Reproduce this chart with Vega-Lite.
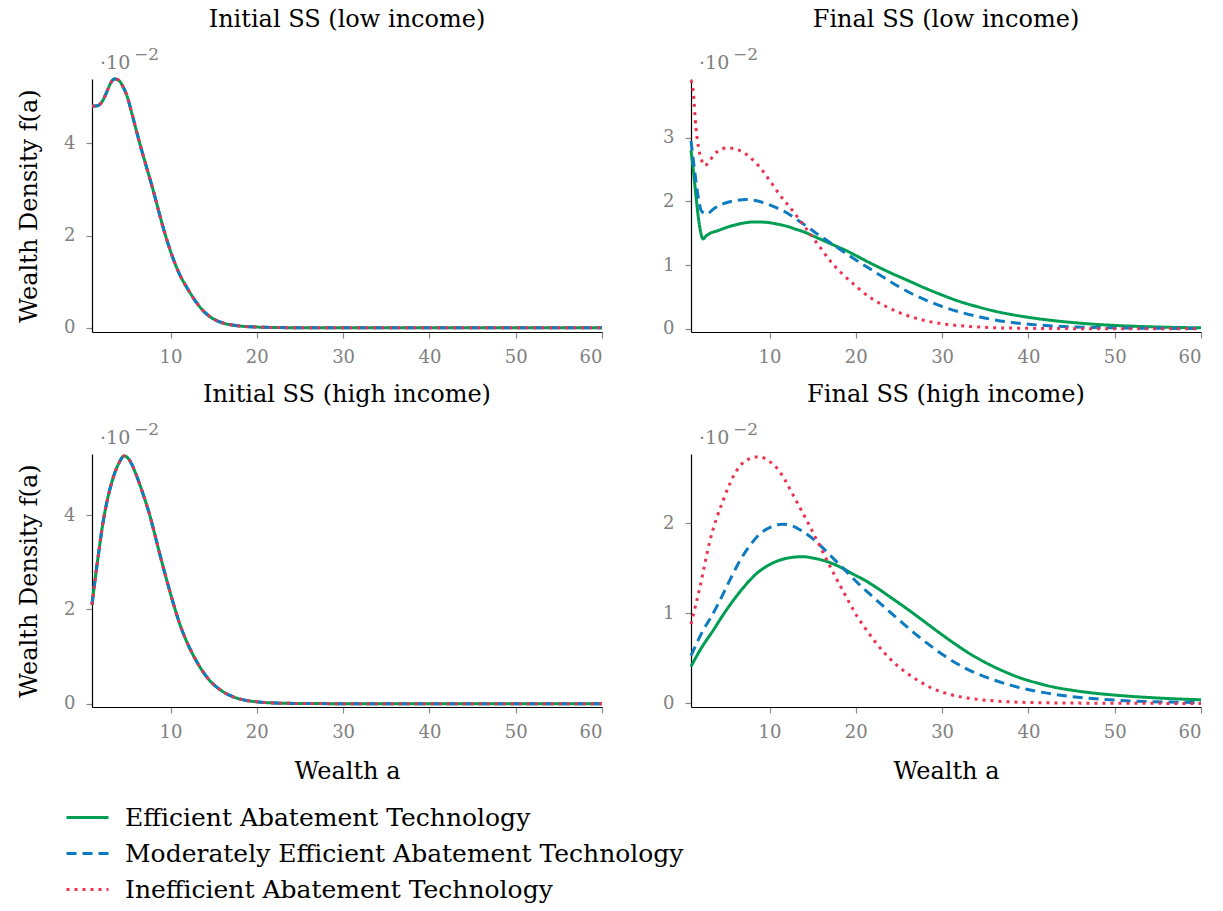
{
  "$schema": "https://vega.github.io/schema/vega-lite/v6.json",
  "padding": {"left": 17, "top": 8, "right": 5, "bottom": 5},
  "background": "white",
  "config": {
    "font": "DejaVu Serif",
    "view": {"stroke": null},
    "axis": {"grid": false, "domainColor": "#000", "domainWidth": 1.2, "tickColor": "#888", "tickSize": 6, "tickWidth": 1.2, "labelColor": "#808080", "labelFont": "DejaVu Serif", "labelFontSize": 18, "format": "d", "titleFont": "DejaVu Serif", "titleFontSize": 24, "titleFontWeight": "normal", "titleColor": "#000"},
    "axisX": {"labelPadding": 10, "titlePadding": 18},
    "axisY": {"labelPadding": 11, "titlePadding": 22},
    "title": {"font": "DejaVu Serif", "fontSize": 24, "fontWeight": "normal", "color": "#000", "offset": 14},
    "legend": {"orient": "none", "legendX": -27, "legendY": 716, "direction": "vertical", "title": null, "labelFont": "DejaVu Serif", "labelFontSize": 25, "labelColor": "#000", "symbolType": "stroke", "symbolSize": 1764, "symbolStrokeWidth": 3, "rowPadding": 0, "labelOffset": 15, "labelLimit": 800}
  },
  "datasets": {
    "tl": [
      {"tech": "Efficient Abatement Technology", "a": 0.9, "f": 4.80}, {"tech": "Efficient Abatement Technology", "a": 1.5, "f": 4.81}, {"tech": "Efficient Abatement Technology", "a": 2.0, "f": 4.88}, {"tech": "Efficient Abatement Technology", "a": 2.5, "f": 5.06}, {"tech": "Efficient Abatement Technology", "a": 3.0, "f": 5.28}, {"tech": "Efficient Abatement Technology", "a": 3.5, "f": 5.39}, {"tech": "Efficient Abatement Technology", "a": 4.0, "f": 5.36}, {"tech": "Efficient Abatement Technology", "a": 4.5, "f": 5.22}, {"tech": "Efficient Abatement Technology", "a": 5.0, "f": 5.00}, {"tech": "Efficient Abatement Technology", "a": 5.5, "f": 4.66}, {"tech": "Efficient Abatement Technology", "a": 6.0, "f": 4.30}, {"tech": "Efficient Abatement Technology", "a": 6.5, "f": 3.95}, {"tech": "Efficient Abatement Technology", "a": 7.0, "f": 3.62}, {"tech": "Efficient Abatement Technology", "a": 7.5, "f": 3.30}, {"tech": "Efficient Abatement Technology", "a": 8.0, "f": 2.97}, {"tech": "Efficient Abatement Technology", "a": 8.5, "f": 2.62}, {"tech": "Efficient Abatement Technology", "a": 9.0, "f": 2.27}, {"tech": "Efficient Abatement Technology", "a": 9.5, "f": 1.95}, {"tech": "Efficient Abatement Technology", "a": 10.0, "f": 1.66}, {"tech": "Efficient Abatement Technology", "a": 11.0, "f": 1.18}, {"tech": "Efficient Abatement Technology", "a": 12.0, "f": 0.84}, {"tech": "Efficient Abatement Technology", "a": 13.0, "f": 0.55}, {"tech": "Efficient Abatement Technology", "a": 14.0, "f": 0.33}, {"tech": "Efficient Abatement Technology", "a": 15.0, "f": 0.19}, {"tech": "Efficient Abatement Technology", "a": 16.0, "f": 0.11}, {"tech": "Efficient Abatement Technology", "a": 17.0, "f": 0.065}, {"tech": "Efficient Abatement Technology", "a": 18.0, "f": 0.04}, {"tech": "Efficient Abatement Technology", "a": 20.0, "f": 0.017}, {"tech": "Efficient Abatement Technology", "a": 22.0, "f": 0.008}, {"tech": "Efficient Abatement Technology", "a": 25.0, "f": 0.003}, {"tech": "Efficient Abatement Technology", "a": 30.0, "f": 0.001}, {"tech": "Efficient Abatement Technology", "a": 35.0, "f": 0}, {"tech": "Efficient Abatement Technology", "a": 45.0, "f": 0}, {"tech": "Efficient Abatement Technology", "a": 60.0, "f": 0},
      {"tech": "Moderately Efficient Abatement Technology", "a": 0.9, "f": 4.80}, {"tech": "Moderately Efficient Abatement Technology", "a": 1.5, "f": 4.81}, {"tech": "Moderately Efficient Abatement Technology", "a": 2.0, "f": 4.88}, {"tech": "Moderately Efficient Abatement Technology", "a": 2.5, "f": 5.06}, {"tech": "Moderately Efficient Abatement Technology", "a": 3.0, "f": 5.28}, {"tech": "Moderately Efficient Abatement Technology", "a": 3.5, "f": 5.39}, {"tech": "Moderately Efficient Abatement Technology", "a": 4.0, "f": 5.36}, {"tech": "Moderately Efficient Abatement Technology", "a": 4.5, "f": 5.22}, {"tech": "Moderately Efficient Abatement Technology", "a": 5.0, "f": 5.00}, {"tech": "Moderately Efficient Abatement Technology", "a": 5.5, "f": 4.66}, {"tech": "Moderately Efficient Abatement Technology", "a": 6.0, "f": 4.30}, {"tech": "Moderately Efficient Abatement Technology", "a": 6.5, "f": 3.95}, {"tech": "Moderately Efficient Abatement Technology", "a": 7.0, "f": 3.62}, {"tech": "Moderately Efficient Abatement Technology", "a": 7.5, "f": 3.30}, {"tech": "Moderately Efficient Abatement Technology", "a": 8.0, "f": 2.97}, {"tech": "Moderately Efficient Abatement Technology", "a": 8.5, "f": 2.62}, {"tech": "Moderately Efficient Abatement Technology", "a": 9.0, "f": 2.27}, {"tech": "Moderately Efficient Abatement Technology", "a": 9.5, "f": 1.95}, {"tech": "Moderately Efficient Abatement Technology", "a": 10.0, "f": 1.66}, {"tech": "Moderately Efficient Abatement Technology", "a": 11.0, "f": 1.18}, {"tech": "Moderately Efficient Abatement Technology", "a": 12.0, "f": 0.84}, {"tech": "Moderately Efficient Abatement Technology", "a": 13.0, "f": 0.55}, {"tech": "Moderately Efficient Abatement Technology", "a": 14.0, "f": 0.33}, {"tech": "Moderately Efficient Abatement Technology", "a": 15.0, "f": 0.19}, {"tech": "Moderately Efficient Abatement Technology", "a": 16.0, "f": 0.11}, {"tech": "Moderately Efficient Abatement Technology", "a": 17.0, "f": 0.065}, {"tech": "Moderately Efficient Abatement Technology", "a": 18.0, "f": 0.04}, {"tech": "Moderately Efficient Abatement Technology", "a": 20.0, "f": 0.017}, {"tech": "Moderately Efficient Abatement Technology", "a": 22.0, "f": 0.008}, {"tech": "Moderately Efficient Abatement Technology", "a": 25.0, "f": 0.003}, {"tech": "Moderately Efficient Abatement Technology", "a": 30.0, "f": 0.001}, {"tech": "Moderately Efficient Abatement Technology", "a": 35.0, "f": 0}, {"tech": "Moderately Efficient Abatement Technology", "a": 45.0, "f": 0}, {"tech": "Moderately Efficient Abatement Technology", "a": 60.0, "f": 0},
      {"tech": "Inefficient Abatement Technology", "a": 0.9, "f": 4.80}, {"tech": "Inefficient Abatement Technology", "a": 1.5, "f": 4.81}, {"tech": "Inefficient Abatement Technology", "a": 2.0, "f": 4.88}, {"tech": "Inefficient Abatement Technology", "a": 2.5, "f": 5.06}, {"tech": "Inefficient Abatement Technology", "a": 3.0, "f": 5.28}, {"tech": "Inefficient Abatement Technology", "a": 3.5, "f": 5.39}, {"tech": "Inefficient Abatement Technology", "a": 4.0, "f": 5.36}, {"tech": "Inefficient Abatement Technology", "a": 4.5, "f": 5.22}, {"tech": "Inefficient Abatement Technology", "a": 5.0, "f": 5.00}, {"tech": "Inefficient Abatement Technology", "a": 5.5, "f": 4.66}, {"tech": "Inefficient Abatement Technology", "a": 6.0, "f": 4.30}, {"tech": "Inefficient Abatement Technology", "a": 6.5, "f": 3.95}, {"tech": "Inefficient Abatement Technology", "a": 7.0, "f": 3.62}, {"tech": "Inefficient Abatement Technology", "a": 7.5, "f": 3.30}, {"tech": "Inefficient Abatement Technology", "a": 8.0, "f": 2.97}, {"tech": "Inefficient Abatement Technology", "a": 8.5, "f": 2.62}, {"tech": "Inefficient Abatement Technology", "a": 9.0, "f": 2.27}, {"tech": "Inefficient Abatement Technology", "a": 9.5, "f": 1.95}, {"tech": "Inefficient Abatement Technology", "a": 10.0, "f": 1.66}, {"tech": "Inefficient Abatement Technology", "a": 11.0, "f": 1.18}, {"tech": "Inefficient Abatement Technology", "a": 12.0, "f": 0.84}, {"tech": "Inefficient Abatement Technology", "a": 13.0, "f": 0.55}, {"tech": "Inefficient Abatement Technology", "a": 14.0, "f": 0.33}, {"tech": "Inefficient Abatement Technology", "a": 15.0, "f": 0.19}, {"tech": "Inefficient Abatement Technology", "a": 16.0, "f": 0.11}, {"tech": "Inefficient Abatement Technology", "a": 17.0, "f": 0.065}, {"tech": "Inefficient Abatement Technology", "a": 18.0, "f": 0.04}, {"tech": "Inefficient Abatement Technology", "a": 20.0, "f": 0.017}, {"tech": "Inefficient Abatement Technology", "a": 22.0, "f": 0.008}, {"tech": "Inefficient Abatement Technology", "a": 25.0, "f": 0.003}, {"tech": "Inefficient Abatement Technology", "a": 30.0, "f": 0.001}, {"tech": "Inefficient Abatement Technology", "a": 35.0, "f": 0}, {"tech": "Inefficient Abatement Technology", "a": 45.0, "f": 0}, {"tech": "Inefficient Abatement Technology", "a": 60.0, "f": 0}
    ],
    "tr": [
      {"tech": "Efficient Abatement Technology", "a": 0.9, "f": 2.80}, {"tech": "Efficient Abatement Technology", "a": 1.2, "f": 2.45}, {"tech": "Efficient Abatement Technology", "a": 1.5, "f": 2.05}, {"tech": "Efficient Abatement Technology", "a": 1.8, "f": 1.70}, {"tech": "Efficient Abatement Technology", "a": 2.1, "f": 1.47}, {"tech": "Efficient Abatement Technology", "a": 2.3, "f": 1.41}, {"tech": "Efficient Abatement Technology", "a": 2.6, "f": 1.45}, {"tech": "Efficient Abatement Technology", "a": 3.0, "f": 1.49}, {"tech": "Efficient Abatement Technology", "a": 4.0, "f": 1.54}, {"tech": "Efficient Abatement Technology", "a": 5.0, "f": 1.59}, {"tech": "Efficient Abatement Technology", "a": 6.0, "f": 1.63}, {"tech": "Efficient Abatement Technology", "a": 7.0, "f": 1.66}, {"tech": "Efficient Abatement Technology", "a": 8.0, "f": 1.675}, {"tech": "Efficient Abatement Technology", "a": 9.0, "f": 1.675}, {"tech": "Efficient Abatement Technology", "a": 10.0, "f": 1.665}, {"tech": "Efficient Abatement Technology", "a": 11.0, "f": 1.64}, {"tech": "Efficient Abatement Technology", "a": 12.0, "f": 1.61}, {"tech": "Efficient Abatement Technology", "a": 13.0, "f": 1.565}, {"tech": "Efficient Abatement Technology", "a": 14.0, "f": 1.52}, {"tech": "Efficient Abatement Technology", "a": 15.0, "f": 1.46}, {"tech": "Efficient Abatement Technology", "a": 16.0, "f": 1.40}, {"tech": "Efficient Abatement Technology", "a": 17.0, "f": 1.34}, {"tech": "Efficient Abatement Technology", "a": 18.0, "f": 1.28}, {"tech": "Efficient Abatement Technology", "a": 19.0, "f": 1.22}, {"tech": "Efficient Abatement Technology", "a": 20.0, "f": 1.15}, {"tech": "Efficient Abatement Technology", "a": 22.0, "f": 1.01}, {"tech": "Efficient Abatement Technology", "a": 24.0, "f": 0.88}, {"tech": "Efficient Abatement Technology", "a": 26.0, "f": 0.76}, {"tech": "Efficient Abatement Technology", "a": 28.0, "f": 0.64}, {"tech": "Efficient Abatement Technology", "a": 30.0, "f": 0.53}, {"tech": "Efficient Abatement Technology", "a": 32.0, "f": 0.43}, {"tech": "Efficient Abatement Technology", "a": 34.0, "f": 0.35}, {"tech": "Efficient Abatement Technology", "a": 36.0, "f": 0.28}, {"tech": "Efficient Abatement Technology", "a": 38.0, "f": 0.225}, {"tech": "Efficient Abatement Technology", "a": 40.0, "f": 0.18}, {"tech": "Efficient Abatement Technology", "a": 42.0, "f": 0.143}, {"tech": "Efficient Abatement Technology", "a": 45.0, "f": 0.10}, {"tech": "Efficient Abatement Technology", "a": 48.0, "f": 0.068}, {"tech": "Efficient Abatement Technology", "a": 50.0, "f": 0.053}, {"tech": "Efficient Abatement Technology", "a": 55.0, "f": 0.028}, {"tech": "Efficient Abatement Technology", "a": 60.0, "f": 0.015},
      {"tech": "Moderately Efficient Abatement Technology", "a": 0.9, "f": 2.95}, {"tech": "Moderately Efficient Abatement Technology", "a": 1.3, "f": 2.50}, {"tech": "Moderately Efficient Abatement Technology", "a": 1.7, "f": 2.10}, {"tech": "Moderately Efficient Abatement Technology", "a": 2.1, "f": 1.85}, {"tech": "Moderately Efficient Abatement Technology", "a": 2.7, "f": 1.80}, {"tech": "Moderately Efficient Abatement Technology", "a": 3.5, "f": 1.88}, {"tech": "Moderately Efficient Abatement Technology", "a": 4.6, "f": 1.96}, {"tech": "Moderately Efficient Abatement Technology", "a": 6.0, "f": 2.01}, {"tech": "Moderately Efficient Abatement Technology", "a": 7.3, "f": 2.03}, {"tech": "Moderately Efficient Abatement Technology", "a": 8.5, "f": 2.01}, {"tech": "Moderately Efficient Abatement Technology", "a": 9.5, "f": 1.97}, {"tech": "Moderately Efficient Abatement Technology", "a": 10.8, "f": 1.90}, {"tech": "Moderately Efficient Abatement Technology", "a": 12.0, "f": 1.82}, {"tech": "Moderately Efficient Abatement Technology", "a": 13.0, "f": 1.73}, {"tech": "Moderately Efficient Abatement Technology", "a": 14.2, "f": 1.62}, {"tech": "Moderately Efficient Abatement Technology", "a": 15.5, "f": 1.49}, {"tech": "Moderately Efficient Abatement Technology", "a": 16.5, "f": 1.40}, {"tech": "Moderately Efficient Abatement Technology", "a": 17.7, "f": 1.29}, {"tech": "Moderately Efficient Abatement Technology", "a": 19.0, "f": 1.17}, {"tech": "Moderately Efficient Abatement Technology", "a": 20.0, "f": 1.08}, {"tech": "Moderately Efficient Abatement Technology", "a": 21.0, "f": 0.995}, {"tech": "Moderately Efficient Abatement Technology", "a": 22.0, "f": 0.91}, {"tech": "Moderately Efficient Abatement Technology", "a": 23.3, "f": 0.80}, {"tech": "Moderately Efficient Abatement Technology", "a": 25.0, "f": 0.66}, {"tech": "Moderately Efficient Abatement Technology", "a": 26.5, "f": 0.55}, {"tech": "Moderately Efficient Abatement Technology", "a": 28.3, "f": 0.44}, {"tech": "Moderately Efficient Abatement Technology", "a": 30.0, "f": 0.35}, {"tech": "Moderately Efficient Abatement Technology", "a": 32.0, "f": 0.265}, {"tech": "Moderately Efficient Abatement Technology", "a": 34.4, "f": 0.185}, {"tech": "Moderately Efficient Abatement Technology", "a": 37.0, "f": 0.12}, {"tech": "Moderately Efficient Abatement Technology", "a": 39.8, "f": 0.075}, {"tech": "Moderately Efficient Abatement Technology", "a": 42.0, "f": 0.052}, {"tech": "Moderately Efficient Abatement Technology", "a": 45.0, "f": 0.032}, {"tech": "Moderately Efficient Abatement Technology", "a": 50.0, "f": 0.015}, {"tech": "Moderately Efficient Abatement Technology", "a": 55.0, "f": 0.008}, {"tech": "Moderately Efficient Abatement Technology", "a": 60.0, "f": 0.005},
      {"tech": "Inefficient Abatement Technology", "a": 0.9, "f": 3.90}, {"tech": "Inefficient Abatement Technology", "a": 1.15, "f": 3.73}, {"tech": "Inefficient Abatement Technology", "a": 1.47, "f": 3.16}, {"tech": "Inefficient Abatement Technology", "a": 1.85, "f": 2.79}, {"tech": "Inefficient Abatement Technology", "a": 2.2, "f": 2.62}, {"tech": "Inefficient Abatement Technology", "a": 2.5, "f": 2.56}, {"tech": "Inefficient Abatement Technology", "a": 3.0, "f": 2.63}, {"tech": "Inefficient Abatement Technology", "a": 3.85, "f": 2.77}, {"tech": "Inefficient Abatement Technology", "a": 5.2, "f": 2.84}, {"tech": "Inefficient Abatement Technology", "a": 6.3, "f": 2.81}, {"tech": "Inefficient Abatement Technology", "a": 7.3, "f": 2.74}, {"tech": "Inefficient Abatement Technology", "a": 8.0, "f": 2.66}, {"tech": "Inefficient Abatement Technology", "a": 8.85, "f": 2.54}, {"tech": "Inefficient Abatement Technology", "a": 10.0, "f": 2.33}, {"tech": "Inefficient Abatement Technology", "a": 11.15, "f": 2.11}, {"tech": "Inefficient Abatement Technology", "a": 12.7, "f": 1.85}, {"tech": "Inefficient Abatement Technology", "a": 14.2, "f": 1.58}, {"tech": "Inefficient Abatement Technology", "a": 15.8, "f": 1.29}, {"tech": "Inefficient Abatement Technology", "a": 17.0, "f": 1.07}, {"tech": "Inefficient Abatement Technology", "a": 18.3, "f": 0.88}, {"tech": "Inefficient Abatement Technology", "a": 19.6, "f": 0.72}, {"tech": "Inefficient Abatement Technology", "a": 20.6, "f": 0.60}, {"tech": "Inefficient Abatement Technology", "a": 22.0, "f": 0.46}, {"tech": "Inefficient Abatement Technology", "a": 23.5, "f": 0.35}, {"tech": "Inefficient Abatement Technology", "a": 25.2, "f": 0.245}, {"tech": "Inefficient Abatement Technology", "a": 27.0, "f": 0.165}, {"tech": "Inefficient Abatement Technology", "a": 28.3, "f": 0.12}, {"tech": "Inefficient Abatement Technology", "a": 30.0, "f": 0.08}, {"tech": "Inefficient Abatement Technology", "a": 31.75, "f": 0.052}, {"tech": "Inefficient Abatement Technology", "a": 33.5, "f": 0.034}, {"tech": "Inefficient Abatement Technology", "a": 35.5, "f": 0.02}, {"tech": "Inefficient Abatement Technology", "a": 40.0, "f": 0.008}, {"tech": "Inefficient Abatement Technology", "a": 45.0, "f": 0.003}, {"tech": "Inefficient Abatement Technology", "a": 50.0, "f": 0.001}, {"tech": "Inefficient Abatement Technology", "a": 60.0, "f": 0}
    ],
    "bl": [
      {"tech": "Efficient Abatement Technology", "a": 0.9, "f": 2.10}, {"tech": "Efficient Abatement Technology", "a": 1.2, "f": 2.55}, {"tech": "Efficient Abatement Technology", "a": 1.5, "f": 2.97}, {"tech": "Efficient Abatement Technology", "a": 1.8, "f": 3.37}, {"tech": "Efficient Abatement Technology", "a": 2.1, "f": 3.76}, {"tech": "Efficient Abatement Technology", "a": 2.5, "f": 4.17}, {"tech": "Efficient Abatement Technology", "a": 3.0, "f": 4.57}, {"tech": "Efficient Abatement Technology", "a": 3.5, "f": 4.88}, {"tech": "Efficient Abatement Technology", "a": 4.0, "f": 5.10}, {"tech": "Efficient Abatement Technology", "a": 4.63, "f": 5.26}, {"tech": "Efficient Abatement Technology", "a": 5.2, "f": 5.18}, {"tech": "Efficient Abatement Technology", "a": 6.0, "f": 4.87}, {"tech": "Efficient Abatement Technology", "a": 6.5, "f": 4.62}, {"tech": "Efficient Abatement Technology", "a": 7.0, "f": 4.35}, {"tech": "Efficient Abatement Technology", "a": 7.55, "f": 4.03}, {"tech": "Efficient Abatement Technology", "a": 8.0, "f": 3.72}, {"tech": "Efficient Abatement Technology", "a": 8.72, "f": 3.20}, {"tech": "Efficient Abatement Technology", "a": 9.3, "f": 2.80}, {"tech": "Efficient Abatement Technology", "a": 9.88, "f": 2.41}, {"tech": "Efficient Abatement Technology", "a": 10.5, "f": 2.02}, {"tech": "Efficient Abatement Technology", "a": 11.05, "f": 1.70}, {"tech": "Efficient Abatement Technology", "a": 11.8, "f": 1.35}, {"tech": "Efficient Abatement Technology", "a": 12.6, "f": 1.04}, {"tech": "Efficient Abatement Technology", "a": 13.5, "f": 0.75}, {"tech": "Efficient Abatement Technology", "a": 14.55, "f": 0.49}, {"tech": "Efficient Abatement Technology", "a": 15.5, "f": 0.33}, {"tech": "Efficient Abatement Technology", "a": 16.5, "f": 0.21}, {"tech": "Efficient Abatement Technology", "a": 17.5, "f": 0.13}, {"tech": "Efficient Abatement Technology", "a": 18.8, "f": 0.07}, {"tech": "Efficient Abatement Technology", "a": 20.0, "f": 0.04}, {"tech": "Efficient Abatement Technology", "a": 22.0, "f": 0.015}, {"tech": "Efficient Abatement Technology", "a": 25.0, "f": 0.005}, {"tech": "Efficient Abatement Technology", "a": 30.0, "f": 0.001}, {"tech": "Efficient Abatement Technology", "a": 40.0, "f": 0}, {"tech": "Efficient Abatement Technology", "a": 60.0, "f": 0},
      {"tech": "Moderately Efficient Abatement Technology", "a": 0.9, "f": 2.10}, {"tech": "Moderately Efficient Abatement Technology", "a": 1.2, "f": 2.55}, {"tech": "Moderately Efficient Abatement Technology", "a": 1.5, "f": 2.97}, {"tech": "Moderately Efficient Abatement Technology", "a": 1.8, "f": 3.37}, {"tech": "Moderately Efficient Abatement Technology", "a": 2.1, "f": 3.76}, {"tech": "Moderately Efficient Abatement Technology", "a": 2.5, "f": 4.17}, {"tech": "Moderately Efficient Abatement Technology", "a": 3.0, "f": 4.57}, {"tech": "Moderately Efficient Abatement Technology", "a": 3.5, "f": 4.88}, {"tech": "Moderately Efficient Abatement Technology", "a": 4.0, "f": 5.10}, {"tech": "Moderately Efficient Abatement Technology", "a": 4.63, "f": 5.26}, {"tech": "Moderately Efficient Abatement Technology", "a": 5.2, "f": 5.18}, {"tech": "Moderately Efficient Abatement Technology", "a": 6.0, "f": 4.87}, {"tech": "Moderately Efficient Abatement Technology", "a": 6.5, "f": 4.62}, {"tech": "Moderately Efficient Abatement Technology", "a": 7.0, "f": 4.35}, {"tech": "Moderately Efficient Abatement Technology", "a": 7.55, "f": 4.03}, {"tech": "Moderately Efficient Abatement Technology", "a": 8.0, "f": 3.72}, {"tech": "Moderately Efficient Abatement Technology", "a": 8.72, "f": 3.20}, {"tech": "Moderately Efficient Abatement Technology", "a": 9.3, "f": 2.80}, {"tech": "Moderately Efficient Abatement Technology", "a": 9.88, "f": 2.41}, {"tech": "Moderately Efficient Abatement Technology", "a": 10.5, "f": 2.02}, {"tech": "Moderately Efficient Abatement Technology", "a": 11.05, "f": 1.70}, {"tech": "Moderately Efficient Abatement Technology", "a": 11.8, "f": 1.35}, {"tech": "Moderately Efficient Abatement Technology", "a": 12.6, "f": 1.04}, {"tech": "Moderately Efficient Abatement Technology", "a": 13.5, "f": 0.75}, {"tech": "Moderately Efficient Abatement Technology", "a": 14.55, "f": 0.49}, {"tech": "Moderately Efficient Abatement Technology", "a": 15.5, "f": 0.33}, {"tech": "Moderately Efficient Abatement Technology", "a": 16.5, "f": 0.21}, {"tech": "Moderately Efficient Abatement Technology", "a": 17.5, "f": 0.13}, {"tech": "Moderately Efficient Abatement Technology", "a": 18.8, "f": 0.07}, {"tech": "Moderately Efficient Abatement Technology", "a": 20.0, "f": 0.04}, {"tech": "Moderately Efficient Abatement Technology", "a": 22.0, "f": 0.015}, {"tech": "Moderately Efficient Abatement Technology", "a": 25.0, "f": 0.005}, {"tech": "Moderately Efficient Abatement Technology", "a": 30.0, "f": 0.001}, {"tech": "Moderately Efficient Abatement Technology", "a": 40.0, "f": 0}, {"tech": "Moderately Efficient Abatement Technology", "a": 60.0, "f": 0},
      {"tech": "Inefficient Abatement Technology", "a": 0.9, "f": 2.10}, {"tech": "Inefficient Abatement Technology", "a": 1.2, "f": 2.55}, {"tech": "Inefficient Abatement Technology", "a": 1.5, "f": 2.97}, {"tech": "Inefficient Abatement Technology", "a": 1.8, "f": 3.37}, {"tech": "Inefficient Abatement Technology", "a": 2.1, "f": 3.76}, {"tech": "Inefficient Abatement Technology", "a": 2.5, "f": 4.17}, {"tech": "Inefficient Abatement Technology", "a": 3.0, "f": 4.57}, {"tech": "Inefficient Abatement Technology", "a": 3.5, "f": 4.88}, {"tech": "Inefficient Abatement Technology", "a": 4.0, "f": 5.10}, {"tech": "Inefficient Abatement Technology", "a": 4.63, "f": 5.26}, {"tech": "Inefficient Abatement Technology", "a": 5.2, "f": 5.18}, {"tech": "Inefficient Abatement Technology", "a": 6.0, "f": 4.87}, {"tech": "Inefficient Abatement Technology", "a": 6.5, "f": 4.62}, {"tech": "Inefficient Abatement Technology", "a": 7.0, "f": 4.35}, {"tech": "Inefficient Abatement Technology", "a": 7.55, "f": 4.03}, {"tech": "Inefficient Abatement Technology", "a": 8.0, "f": 3.72}, {"tech": "Inefficient Abatement Technology", "a": 8.72, "f": 3.20}, {"tech": "Inefficient Abatement Technology", "a": 9.3, "f": 2.80}, {"tech": "Inefficient Abatement Technology", "a": 9.88, "f": 2.41}, {"tech": "Inefficient Abatement Technology", "a": 10.5, "f": 2.02}, {"tech": "Inefficient Abatement Technology", "a": 11.05, "f": 1.70}, {"tech": "Inefficient Abatement Technology", "a": 11.8, "f": 1.35}, {"tech": "Inefficient Abatement Technology", "a": 12.6, "f": 1.04}, {"tech": "Inefficient Abatement Technology", "a": 13.5, "f": 0.75}, {"tech": "Inefficient Abatement Technology", "a": 14.55, "f": 0.49}, {"tech": "Inefficient Abatement Technology", "a": 15.5, "f": 0.33}, {"tech": "Inefficient Abatement Technology", "a": 16.5, "f": 0.21}, {"tech": "Inefficient Abatement Technology", "a": 17.5, "f": 0.13}, {"tech": "Inefficient Abatement Technology", "a": 18.8, "f": 0.07}, {"tech": "Inefficient Abatement Technology", "a": 20.0, "f": 0.04}, {"tech": "Inefficient Abatement Technology", "a": 22.0, "f": 0.015}, {"tech": "Inefficient Abatement Technology", "a": 25.0, "f": 0.005}, {"tech": "Inefficient Abatement Technology", "a": 30.0, "f": 0.001}, {"tech": "Inefficient Abatement Technology", "a": 40.0, "f": 0}, {"tech": "Inefficient Abatement Technology", "a": 60.0, "f": 0}
    ],
    "br": [
      {"tech": "Efficient Abatement Technology", "a": 0.9, "f": 0.41}, {"tech": "Efficient Abatement Technology", "a": 2.0, "f": 0.60}, {"tech": "Efficient Abatement Technology", "a": 3.46, "f": 0.81}, {"tech": "Efficient Abatement Technology", "a": 4.6, "f": 0.98}, {"tech": "Efficient Abatement Technology", "a": 5.77, "f": 1.14}, {"tech": "Efficient Abatement Technology", "a": 7.0, "f": 1.29}, {"tech": "Efficient Abatement Technology", "a": 8.47, "f": 1.44}, {"tech": "Efficient Abatement Technology", "a": 9.8, "f": 1.53}, {"tech": "Efficient Abatement Technology", "a": 11.15, "f": 1.59}, {"tech": "Efficient Abatement Technology", "a": 12.5, "f": 1.62}, {"tech": "Efficient Abatement Technology", "a": 13.85, "f": 1.63}, {"tech": "Efficient Abatement Technology", "a": 15.0, "f": 1.615}, {"tech": "Efficient Abatement Technology", "a": 16.5, "f": 1.58}, {"tech": "Efficient Abatement Technology", "a": 18.07, "f": 1.52}, {"tech": "Efficient Abatement Technology", "a": 19.6, "f": 1.44}, {"tech": "Efficient Abatement Technology", "a": 21.0, "f": 1.37}, {"tech": "Efficient Abatement Technology", "a": 22.5, "f": 1.28}, {"tech": "Efficient Abatement Technology", "a": 24.0, "f": 1.18}, {"tech": "Efficient Abatement Technology", "a": 25.8, "f": 1.06}, {"tech": "Efficient Abatement Technology", "a": 27.5, "f": 0.94}, {"tech": "Efficient Abatement Technology", "a": 29.6, "f": 0.79}, {"tech": "Efficient Abatement Technology", "a": 31.5, "f": 0.66}, {"tech": "Efficient Abatement Technology", "a": 33.5, "f": 0.535}, {"tech": "Efficient Abatement Technology", "a": 35.5, "f": 0.43}, {"tech": "Efficient Abatement Technology", "a": 37.3, "f": 0.35}, {"tech": "Efficient Abatement Technology", "a": 39.0, "f": 0.285}, {"tech": "Efficient Abatement Technology", "a": 41.2, "f": 0.222}, {"tech": "Efficient Abatement Technology", "a": 43.0, "f": 0.18}, {"tech": "Efficient Abatement Technology", "a": 45.0, "f": 0.147}, {"tech": "Efficient Abatement Technology", "a": 47.5, "f": 0.115}, {"tech": "Efficient Abatement Technology", "a": 50.0, "f": 0.092}, {"tech": "Efficient Abatement Technology", "a": 55.0, "f": 0.06}, {"tech": "Efficient Abatement Technology", "a": 60.0, "f": 0.04},
      {"tech": "Moderately Efficient Abatement Technology", "a": 0.9, "f": 0.53}, {"tech": "Moderately Efficient Abatement Technology", "a": 2.3, "f": 0.81}, {"tech": "Moderately Efficient Abatement Technology", "a": 3.3, "f": 0.97}, {"tech": "Moderately Efficient Abatement Technology", "a": 4.23, "f": 1.14}, {"tech": "Moderately Efficient Abatement Technology", "a": 5.4, "f": 1.37}, {"tech": "Moderately Efficient Abatement Technology", "a": 6.54, "f": 1.58}, {"tech": "Moderately Efficient Abatement Technology", "a": 7.7, "f": 1.75}, {"tech": "Moderately Efficient Abatement Technology", "a": 8.85, "f": 1.88}, {"tech": "Moderately Efficient Abatement Technology", "a": 10.2, "f": 1.96}, {"tech": "Moderately Efficient Abatement Technology", "a": 11.5, "f": 1.99}, {"tech": "Moderately Efficient Abatement Technology", "a": 12.7, "f": 1.97}, {"tech": "Moderately Efficient Abatement Technology", "a": 13.85, "f": 1.91}, {"tech": "Moderately Efficient Abatement Technology", "a": 15.0, "f": 1.83}, {"tech": "Moderately Efficient Abatement Technology", "a": 16.15, "f": 1.73}, {"tech": "Moderately Efficient Abatement Technology", "a": 17.5, "f": 1.60}, {"tech": "Moderately Efficient Abatement Technology", "a": 18.85, "f": 1.47}, {"tech": "Moderately Efficient Abatement Technology", "a": 20.3, "f": 1.33}, {"tech": "Moderately Efficient Abatement Technology", "a": 21.9, "f": 1.19}, {"tech": "Moderately Efficient Abatement Technology", "a": 23.3, "f": 1.07}, {"tech": "Moderately Efficient Abatement Technology", "a": 24.6, "f": 0.96}, {"tech": "Moderately Efficient Abatement Technology", "a": 26.0, "f": 0.845}, {"tech": "Moderately Efficient Abatement Technology", "a": 27.3, "f": 0.74}, {"tech": "Moderately Efficient Abatement Technology", "a": 29.0, "f": 0.615}, {"tech": "Moderately Efficient Abatement Technology", "a": 30.4, "f": 0.52}, {"tech": "Moderately Efficient Abatement Technology", "a": 32.5, "f": 0.40}, {"tech": "Moderately Efficient Abatement Technology", "a": 35.4, "f": 0.28}, {"tech": "Moderately Efficient Abatement Technology", "a": 38.0, "f": 0.20}, {"tech": "Moderately Efficient Abatement Technology", "a": 41.2, "f": 0.13}, {"tech": "Moderately Efficient Abatement Technology", "a": 44.0, "f": 0.088}, {"tech": "Moderately Efficient Abatement Technology", "a": 47.0, "f": 0.057}, {"tech": "Moderately Efficient Abatement Technology", "a": 50.0, "f": 0.037}, {"tech": "Moderately Efficient Abatement Technology", "a": 52.5, "f": 0.025}, {"tech": "Moderately Efficient Abatement Technology", "a": 56.0, "f": 0.015}, {"tech": "Moderately Efficient Abatement Technology", "a": 60.0, "f": 0.01},
      {"tech": "Inefficient Abatement Technology", "a": 0.9, "f": 0.88}, {"tech": "Inefficient Abatement Technology", "a": 1.93, "f": 1.29}, {"tech": "Inefficient Abatement Technology", "a": 3.08, "f": 1.80}, {"tech": "Inefficient Abatement Technology", "a": 4.6, "f": 2.25}, {"tech": "Inefficient Abatement Technology", "a": 6.15, "f": 2.58}, {"tech": "Inefficient Abatement Technology", "a": 7.5, "f": 2.71}, {"tech": "Inefficient Abatement Technology", "a": 8.85, "f": 2.74}, {"tech": "Inefficient Abatement Technology", "a": 9.8, "f": 2.70}, {"tech": "Inefficient Abatement Technology", "a": 10.8, "f": 2.62}, {"tech": "Inefficient Abatement Technology", "a": 11.8, "f": 2.48}, {"tech": "Inefficient Abatement Technology", "a": 12.7, "f": 2.32}, {"tech": "Inefficient Abatement Technology", "a": 13.6, "f": 2.16}, {"tech": "Inefficient Abatement Technology", "a": 14.6, "f": 1.98}, {"tech": "Inefficient Abatement Technology", "a": 15.5, "f": 1.81}, {"tech": "Inefficient Abatement Technology", "a": 16.5, "f": 1.62}, {"tech": "Inefficient Abatement Technology", "a": 17.5, "f": 1.43}, {"tech": "Inefficient Abatement Technology", "a": 18.45, "f": 1.26}, {"tech": "Inefficient Abatement Technology", "a": 19.3, "f": 1.11}, {"tech": "Inefficient Abatement Technology", "a": 20.2, "f": 0.96}, {"tech": "Inefficient Abatement Technology", "a": 21.2, "f": 0.82}, {"tech": "Inefficient Abatement Technology", "a": 22.2, "f": 0.69}, {"tech": "Inefficient Abatement Technology", "a": 23.5, "f": 0.54}, {"tech": "Inefficient Abatement Technology", "a": 24.8, "f": 0.42}, {"tech": "Inefficient Abatement Technology", "a": 25.8, "f": 0.345}, {"tech": "Inefficient Abatement Technology", "a": 27.2, "f": 0.255}, {"tech": "Inefficient Abatement Technology", "a": 28.8, "f": 0.17}, {"tech": "Inefficient Abatement Technology", "a": 30.5, "f": 0.11}, {"tech": "Inefficient Abatement Technology", "a": 32.0, "f": 0.075}, {"tech": "Inefficient Abatement Technology", "a": 33.5, "f": 0.052}, {"tech": "Inefficient Abatement Technology", "a": 36.0, "f": 0.028}, {"tech": "Inefficient Abatement Technology", "a": 39.2, "f": 0.012}, {"tech": "Inefficient Abatement Technology", "a": 45.0, "f": 0.004}, {"tech": "Inefficient Abatement Technology", "a": 50.0, "f": 0.001}, {"tech": "Inefficient Abatement Technology", "a": 60.0, "f": 0}
    ],
    "expbase": [{"label": "·10"}],
    "exppow": [{"label": "−2"}]
  },
  "bounds": "flush",
  "columns": 2,
  "spacing": {"row": 122, "column": 89},
  "concat": [
    {
      "title": "Initial SS (low income)",
      "width": 510, "height": 253,
      "layer": [
        {"data": {"name": "tl"}, "mark": {"type": "line", "strokeWidth": 3, "interpolate": "monotone"},
         "encoding": {
           "x": {"field": "a", "type": "quantitative", "scale": {"domain": [0.9, 60], "nice": false, "zero": false}, "axis": {"values": [10, 20, 30, 40, 50, 60], "title": null}},
           "y": {"field": "f", "type": "quantitative", "scale": {"domain": [-0.09, 5.39], "nice": false, "zero": false}, "axis": {"values": [0, 2, 4], "title": "Wealth Density f(a)"}},
           "color": {"field": "tech", "type": "nominal", "scale": {"domain": ["Efficient Abatement Technology", "Moderately Efficient Abatement Technology", "Inefficient Abatement Technology"], "range": ["#009E52", "#0C7BC0", "#EE3352"]}},
           "strokeDash": {"field": "tech", "type": "nominal", "scale": {"domain": ["Efficient Abatement Technology", "Moderately Efficient Abatement Technology", "Inefficient Abatement Technology"], "range": [[1, 0], [10, 6], [3, 5]]}}
         }},
        {"data": {"name": "expbase"}, "mark": {"type": "text", "align": "left", "baseline": "alphabetic", "dx": 8, "dy": -10, "fontSize": 19, "color": "#808080"},
         "encoding": {"x": {"datum": 0.9}, "y": {"datum": 5.39}, "text": {"field": "label"}}},
        {"data": {"name": "exppow"}, "mark": {"type": "text", "align": "left", "baseline": "alphabetic", "dx": 42, "dy": -19, "fontSize": 17, "color": "#808080"},
         "encoding": {"x": {"datum": 0.9}, "y": {"datum": 5.39}, "text": {"field": "label"}}}
      ]
    },
    {
      "title": "Final SS (low income)",
      "width": 510, "height": 253,
      "layer": [
        {"data": {"name": "tr"}, "mark": {"type": "line", "strokeWidth": 3, "interpolate": "monotone"},
         "encoding": {
           "x": {"field": "a", "type": "quantitative", "scale": {"domain": [0.9, 60], "nice": false, "zero": false}, "axis": {"values": [10, 20, 30, 40, 50, 60], "title": null}},
           "y": {"field": "f", "type": "quantitative", "scale": {"domain": [-0.05, 3.92], "nice": false, "zero": false}, "axis": {"values": [0, 1, 2, 3], "title": null}},
           "color": {"field": "tech", "type": "nominal", "scale": {"domain": ["Efficient Abatement Technology", "Moderately Efficient Abatement Technology", "Inefficient Abatement Technology"], "range": ["#009E52", "#0C7BC0", "#EE3352"]}},
           "strokeDash": {"field": "tech", "type": "nominal", "scale": {"domain": ["Efficient Abatement Technology", "Moderately Efficient Abatement Technology", "Inefficient Abatement Technology"], "range": [[1, 0], [10, 6], [3, 5]]}}
         }},
        {"data": {"name": "expbase"}, "mark": {"type": "text", "align": "left", "baseline": "alphabetic", "dx": 8, "dy": -10, "fontSize": 19, "color": "#808080"},
         "encoding": {"x": {"datum": 0.9}, "y": {"datum": 3.92}, "text": {"field": "label"}}},
        {"data": {"name": "exppow"}, "mark": {"type": "text", "align": "left", "baseline": "alphabetic", "dx": 42, "dy": -19, "fontSize": 17, "color": "#808080"},
         "encoding": {"x": {"datum": 0.9}, "y": {"datum": 3.92}, "text": {"field": "label"}}}
      ]
    },
    {
      "title": "Initial SS (high income)",
      "width": 510, "height": 253,
      "layer": [
        {"data": {"name": "bl"}, "mark": {"type": "line", "strokeWidth": 3, "interpolate": "monotone"},
         "encoding": {
           "x": {"field": "a", "type": "quantitative", "scale": {"domain": [0.9, 60], "nice": false, "zero": false}, "axis": {"values": [10, 20, 30, 40, 50, 60], "title": "Wealth a"}},
           "y": {"field": "f", "type": "quantitative", "scale": {"domain": [-0.07, 5.3], "nice": false, "zero": false}, "axis": {"values": [0, 2, 4], "title": "Wealth Density f(a)"}},
           "color": {"field": "tech", "type": "nominal", "scale": {"domain": ["Efficient Abatement Technology", "Moderately Efficient Abatement Technology", "Inefficient Abatement Technology"], "range": ["#009E52", "#0C7BC0", "#EE3352"]}},
           "strokeDash": {"field": "tech", "type": "nominal", "scale": {"domain": ["Efficient Abatement Technology", "Moderately Efficient Abatement Technology", "Inefficient Abatement Technology"], "range": [[1, 0], [10, 6], [3, 5]]}}
         }},
        {"data": {"name": "expbase"}, "mark": {"type": "text", "align": "left", "baseline": "alphabetic", "dx": 8, "dy": -10, "fontSize": 19, "color": "#808080"},
         "encoding": {"x": {"datum": 0.9}, "y": {"datum": 5.3}, "text": {"field": "label"}}},
        {"data": {"name": "exppow"}, "mark": {"type": "text", "align": "left", "baseline": "alphabetic", "dx": 42, "dy": -19, "fontSize": 17, "color": "#808080"},
         "encoding": {"x": {"datum": 0.9}, "y": {"datum": 5.3}, "text": {"field": "label"}}}
      ]
    },
    {
      "title": "Final SS (high income)",
      "width": 510, "height": 253,
      "layer": [
        {"data": {"name": "br"}, "mark": {"type": "line", "strokeWidth": 3, "interpolate": "monotone"},
         "encoding": {
           "x": {"field": "a", "type": "quantitative", "scale": {"domain": [0.9, 60], "nice": false, "zero": false}, "axis": {"values": [10, 20, 30, 40, 50, 60], "title": "Wealth a"}},
           "y": {"field": "f", "type": "quantitative", "scale": {"domain": [-0.04, 2.77], "nice": false, "zero": false}, "axis": {"values": [0, 1, 2], "title": null}},
           "color": {"field": "tech", "type": "nominal", "scale": {"domain": ["Efficient Abatement Technology", "Moderately Efficient Abatement Technology", "Inefficient Abatement Technology"], "range": ["#009E52", "#0C7BC0", "#EE3352"]}},
           "strokeDash": {"field": "tech", "type": "nominal", "scale": {"domain": ["Efficient Abatement Technology", "Moderately Efficient Abatement Technology", "Inefficient Abatement Technology"], "range": [[1, 0], [10, 6], [3, 5]]}}
         }},
        {"data": {"name": "expbase"}, "mark": {"type": "text", "align": "left", "baseline": "alphabetic", "dx": 8, "dy": -10, "fontSize": 19, "color": "#808080"},
         "encoding": {"x": {"datum": 0.9}, "y": {"datum": 2.77}, "text": {"field": "label"}}},
        {"data": {"name": "exppow"}, "mark": {"type": "text", "align": "left", "baseline": "alphabetic", "dx": 42, "dy": -19, "fontSize": 17, "color": "#808080"},
         "encoding": {"x": {"datum": 0.9}, "y": {"datum": 2.77}, "text": {"field": "label"}}}
      ]
    }
  ],
  "resolve": {"scale": {"y": "independent"}}
}
